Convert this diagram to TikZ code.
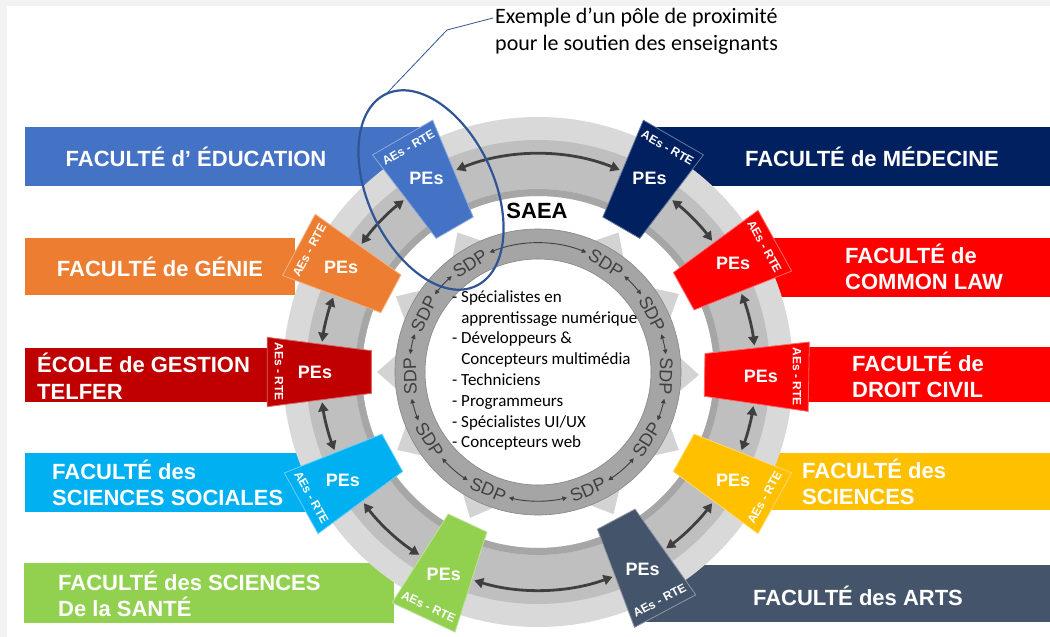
\documentclass[tikz,border=0pt]{standalone}
\usepackage{fontspec}
\setmainfont{Liberation Sans}
\newfontfamily\calibfont{Carlito}
\usetikzlibrary{arrows.meta,shapes.geometric,calc}
\definecolor{framegrey}{HTML}{F2F2F2}
\definecolor{ringlight}{HTML}{D9D9D9}
\definecolor{ringmid}{HTML}{BFBFBF}
\definecolor{ringdark}{HTML}{A6A6A6}
\definecolor{geargrey}{HTML}{D3D3D3}
\definecolor{sdpring}{HTML}{A5A5A5}
\definecolor{sdpgrey}{HTML}{404040}
\definecolor{arrowgrey}{HTML}{3F3F3F}
\definecolor{ellblue}{HTML}{2F5597}
\definecolor{cEdu}{HTML}{4472C4}
\definecolor{cMed}{HTML}{002060}
\definecolor{cGen}{HTML}{ED7D31}
\definecolor{cCL}{HTML}{FF0000}
\definecolor{cTel}{HTML}{C00000}
\definecolor{cDC}{HTML}{FF0000}
\definecolor{cSoc}{HTML}{00B0F0}
\definecolor{cSci}{HTML}{FFC000}
\definecolor{cSan}{HTML}{92D050}
\definecolor{cArt}{HTML}{44546A}
\begin{document}
\begin{tikzpicture}[x=1pt,y=1pt,
  bar/.style={fill=#1, inner sep=0pt, outer sep=0pt, anchor=north west},
  factext/.style={text=white, font=\bfseries\fontsize{22}{26.5}\selectfont, align=left, inner sep=0pt},
  pes/.style={text=white, font=\bfseries\fontsize{18}{20}\selectfont, inner sep=0pt},
  aes/.style={text=white, font=\bfseries\fontsize{12}{13}\selectfont, inner sep=0pt},
  sdp/.style={text=sdpgrey, font=\fontsize{18}{20}\selectfont, inner sep=0pt},
  bigarrow/.style={draw=arrowgrey, line width=2.8pt, {Triangle[length=9pt,width=10pt]}-{Triangle[length=9pt,width=10pt]}},
  sdparrow/.style={draw=sdpgrey, line width=0.9pt, {Triangle[length=4.5pt,width=4.5pt]}-{Triangle[length=4.5pt,width=4.5pt]}},
]
\useasboundingbox (0,0) rectangle (1050,-637);
\fill[framegrey] (0,0) rectangle (1050,-637);
\fill[white] (7,-6) rectangle (1050,-637);
\coordinate (C) at (538,-372);

% faculty bars
\node[bar=cEdu, minimum width=395pt, minimum height=59pt] (bEdu) at (25,-127) {};
\node[bar=cGen, minimum width=270pt, minimum height=57pt] (bGen) at (25,-238) {};
\node[bar=cTel, minimum width=255pt, minimum height=54pt] (bTel) at (25,-348) {};
\node[bar=cSoc, minimum width=285pt, minimum height=59pt] (bSoc) at (25,-453) {};
\node[bar=cSan, minimum width=370pt, minimum height=60pt] (bSan) at (24,-563) {};
\node[bar=cMed, minimum width=395pt, minimum height=59pt] (bMed) at (655,-127) {};
\node[bar=cCL, minimum width=290pt, minimum height=59pt] (bCL) at (760,-238) {};
\node[bar=cDC, minimum width=260pt, minimum height=55pt] (bDC) at (790,-347) {};
\node[bar=cSci, minimum width=290pt, minimum height=57pt] (bSci) at (760,-453) {};
\node[bar=cArt, minimum width=410pt, minimum height=57pt] (bArt) at (640,-565) {};

\node[factext] (tEdu) at (196,-157) {FACULTÉ d’ ÉDUCATION};
\node[factext] (tGen) at (160,-267) {FACULTÉ de GÉNIE};
\node[factext, anchor=west] (tTel) at (37,-376) {ÉCOLE de GESTION\\TELFER};
\node[factext, anchor=west] (tSoc) at (52,-483) {FACULTÉ des\\SCIENCES SOCIALES};
\node[factext, anchor=west] (tSan) at (58,-594) {FACULTÉ des SCIENCES\\De la SANTÉ};
\node[factext] (tMed) at (872,-157) {FACULTÉ de MÉDECINE};
\node[factext, anchor=west] (tCL) at (845,-267) {FACULTÉ de\\COMMON LAW};
\node[factext, anchor=west] (tDC) at (852,-375) {FACULTÉ de\\DROIT CIVIL};
\node[factext, anchor=west] (tSci) at (802,-482) {FACULTÉ des\\SCIENCES};
\node[factext] (tArt) at (858,-596) {FACULTÉ des ARTS};

% outer ring
\fill[ringlight, even odd rule] (C) circle[radius=255] (C) circle[radius=176];
\fill[ringmid, even odd rule] (C) circle[radius=232] (C) circle[radius=183];
\fill[ringdark, even odd rule] (C) circle[radius=183] (C) circle[radius=176];

% gear tips
\foreach \a in {120,60,152,29,180,-1,209,331,245,298}{
  \fill[geargrey] ([shift={({\a-9}:138)}]C) -- ([shift={(\a:161)}]C) -- ([shift={({\a+9}:138)}]C) -- cycle;
}
% inner SDP ring
\fill[sdpring, even odd rule] (C) circle[radius=143] (C) circle[radius=113];
\draw[ringdark!80!black, line width=0.6pt] (C) circle[radius=143] (C) circle[radius=113];

% tiles
\foreach \a/\col/\rot/\nm in {120/cEdu/30/Edu, 60/cMed/-30/Med, 152/cGen/62/Gen, 29/cCL/-61/CL, 180/cTel/-90/Tel, -1/cDC/-90/DC, 209/cSoc/-61/Soc, 331/cSci/61/Sci, 245/cSan/-25/San, 298/cArt/28/Art}{
  \path[fill=\col, draw=\col!60!white, line width=0.8pt]
    ([shift={({\a-7.3}:168)}]C) -- ([shift={({\a+7.3}:168)}]C) --
    ([shift={({\a+7.3}:273)}]C) -- ([shift={({\a-7.3}:273)}]C) -- cycle;
  \node[pes] (p\nm) at ([shift={(\a:223)}]C) {PEs};
  \node[aes, rotate=\rot] (a\nm) at ([shift={(\a:259)}]C) {AEs - RTE};
}

% arrows between tiles
\foreach \a/\b in {-1/29, 29/60, 60/120, 120/152, 152/180, 180/209, 209/245, 245/298, 298/331, 331/359}{
  \draw[bigarrow] ([shift={({\a+8}:218)}]C) arc[start angle={\a+8}, end angle={\b-8}, radius=218];
}

% SDP labels
\foreach \a/\r [count=\i] in {122/32, 58/-32, 27/-63, -2/-92, -32/58, -67/23, -113/-23, -148/-58, 182/92, 153/63}{
  \node[sdp, rotate=\r] (s\i) at ([shift={(\a:128)}]C) {SDP};
}
\foreach \a/\b in {-148/-113, -113/-67, -67/-32, -32/-2, -2/27, 27/58, 58/122, 122/153, 153/182, 182/212}{
  \draw[sdparrow] ([shift={({\a+10}:129)}]C) arc[start angle={\a+10}, end angle={\b-10}, radius=129];
}

% centre list
\node[font=\calibfont\fontsize{17}{20.8}\selectfont, align=left, anchor=west, inner sep=0pt] (list) at (452,-370.5)
  {- Spécialistes en\\\phantom{- }apprentissage numérique\\- Développeurs \&\\\phantom{- }Concepteurs multimédia\\- Techniciens\\- Programmeurs\\- Spécialistes UI/UX\\- Concepteurs web};

\node[font=\bfseries\fontsize{22}{26}\selectfont, inner sep=0pt] (saea) at (537,-211) {SAEA};

% highlight ellipse and annotation
\node[draw=ellblue, line width=2.2pt, ellipse, minimum width=212pt, minimum height=126pt, inner sep=0pt, outer sep=0pt, rotate=-65] (ell) at (431,-190) {};
\node[font=\calibfont\fontsize{22}{27}\selectfont, align=left, anchor=west, inner sep=0pt] (ann) at (495,-31.5)
  {Exemple d’un pôle de proximité\\pour le soutien des enseignants};
\coordinate (kink) at (447,-30);
\coordinate (annin) at ($(ann.west)+(-2,13.5)$);
\draw[ellblue, line width=0.8pt] (ell.west) -- (kink) -- (annin);
\end{tikzpicture}
\end{document}
